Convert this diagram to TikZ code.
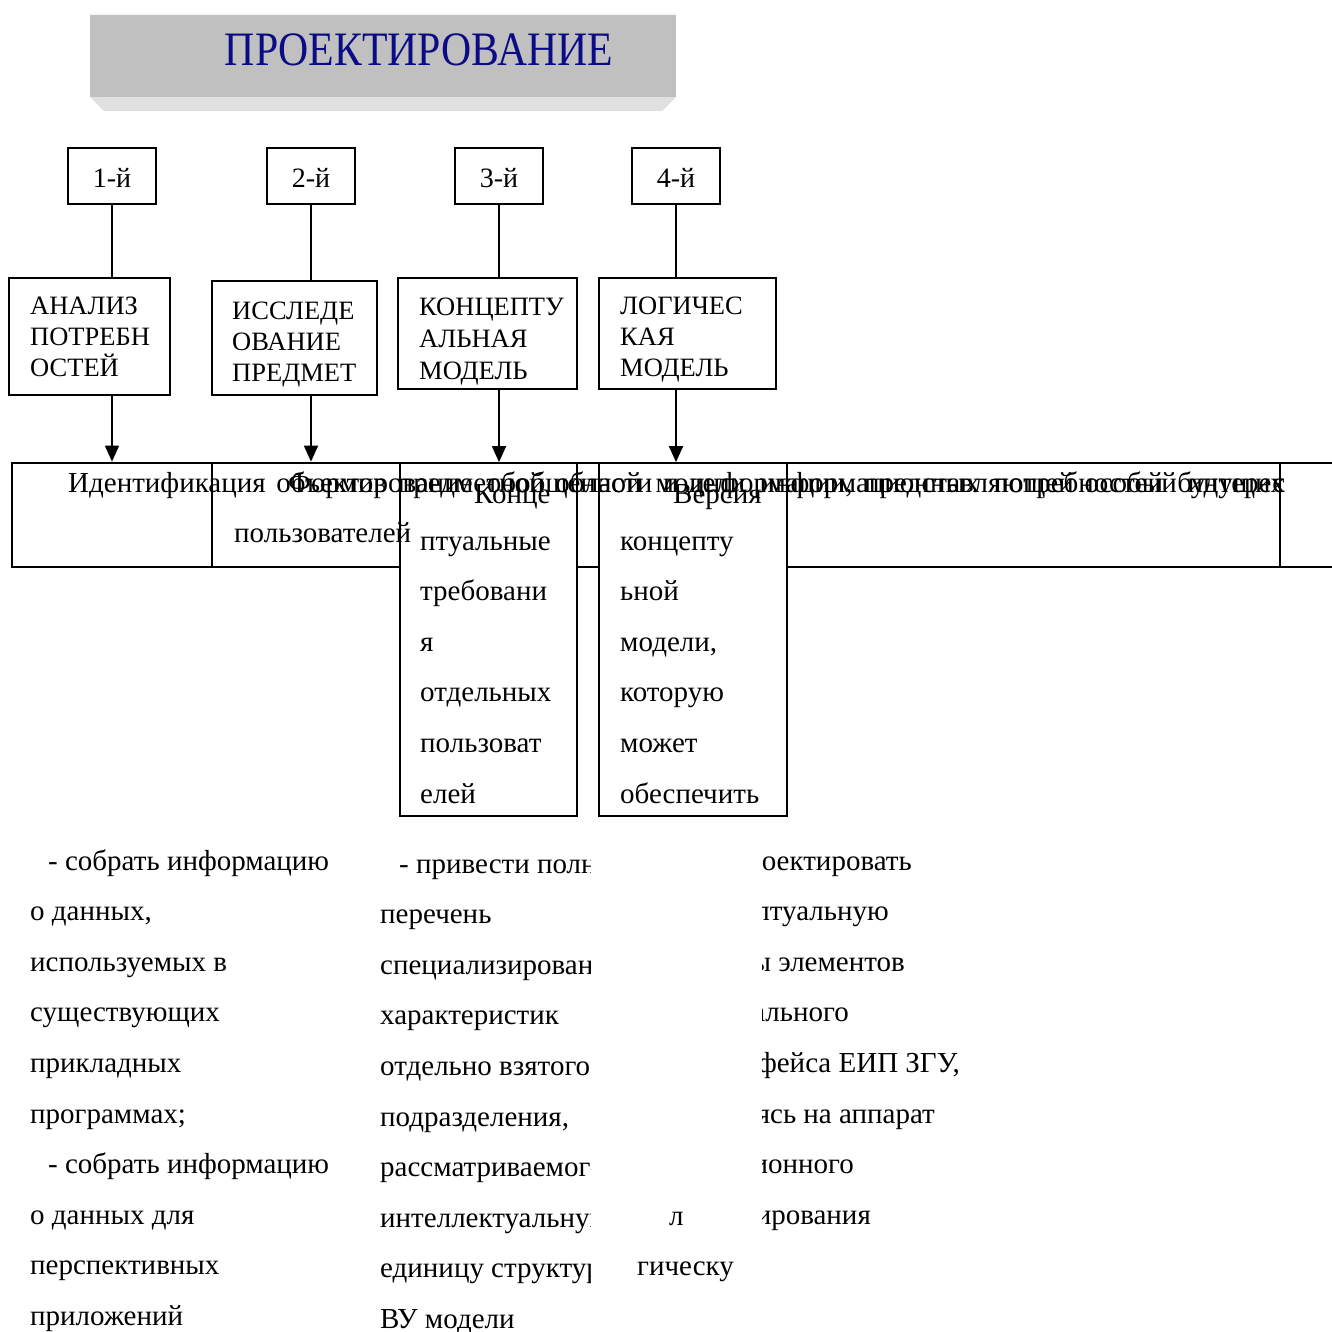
\documentclass[tikz,border=0pt]{standalone}
\usepackage{fontspec}
\setmainfont{Liberation Serif}
\newfontfamily\headfont[FakeStretch=0.87]{Liberation Serif}
\usetikzlibrary{arrows.meta}

\definecolor{headfill}{HTML}{C0C0C0}
\definecolor{headbevel}{HTML}{E0E0E0}
\definecolor{headtext}{HTML}{0B0B85}

\tikzset{
  numbox/.style={draw, line width=1.8pt, inner sep=0pt, minimum width=88pt, minimum height=56pt},
  numtext/.style={anchor=base, inner sep=0pt, font=\fontsize{28}{30}\selectfont},
  modelbox/.style={draw, line width=1.8pt, inner sep=0pt},
  stripbox/.style={draw, line width=2.8pt, inner sep=0pt, minimum height=104pt},
  colbox/.style={draw, fill=white, line width=1.8pt, inner sep=0pt, minimum height=353pt},
  capline/.style={anchor=base west, inner sep=0pt, font=\fontsize{26.5}{30}\selectfont},
  bodyline/.style={anchor=base west, inner sep=0pt, font=\fontsize{29}{34}\selectfont},
  bodyright/.style={anchor=base east, inner sep=0pt, font=\fontsize{29}{34}\selectfont},
  link/.style={line width=1.8pt},
  arrowlink/.style={line width=1.8pt, -{Triangle[length=16pt,width=14pt]}},
}

\begin{document}
\begin{tikzpicture}[x=1pt, y=-1pt]
\clip (0,0) rectangle (1332,1332);
\fill[white] (0,0) rectangle (1332,1332);

% heading plate with bevel
\fill[headbevel] (90,97) -- (676,97) -- (662,111) -- (104,111) -- cycle;
\node[fill=headfill, inner sep=0pt, minimum width=586pt, minimum height=84pt] (head) at (383,55) {};
\fill[white!85!headfill] (90,13) rectangle (676,15.5);
\node[anchor=base, inner sep=0pt, text=headtext, font=\headfont\fontsize{48}{50}\selectfont] (headtitle) at (419,66) {ПРОЕКТИРОВАНИЕ};

% stage numbers
\node[numbox] (n1) at (112,176) {};
\node[numbox] (n2) at (311,176) {};
\node[numbox] (n3) at (499,176) {};
\node[numbox] (n4) at (676,176) {};
\node[numtext] (n1t) at (112,188) {1-й};
\node[numtext] (n2t) at (311,188) {2-й};
\node[numtext] (n3t) at (499,188) {3-й};
\node[numtext] (n4t) at (676,188) {4-й};

% stage boxes
\node[modelbox, minimum width=161pt, minimum height=117pt] (m1) at (89.5,336.5) {};
\node[modelbox, minimum width=165pt, minimum height=114pt] (m2) at (294.5,338) {};
\node[modelbox, minimum width=179pt, minimum height=111pt] (m3) at (487.5,333.5) {};
\node[modelbox, minimum width=177pt, minimum height=111pt] (m4) at (687.5,333.5) {};

\foreach \t [count=\i] in {АНАЛИЗ, ПОТРЕБН, ОСТЕЙ}
  \node[capline] (m1t\i) at (30,{314+31*(\i-1)}) {\t};
\foreach \t [count=\i] in {ИССЛЕДЕ, ОВАНИЕ, ПРЕДМЕТ}
  \node[capline] (m2t\i) at (232,{319+31*(\i-1)}) {\t};
\foreach \t [count=\i] in {КОНЦЕПТУ, АЛЬНАЯ, МОДЕЛЬ}
  \node[capline] (m3t\i) at (419,{315+32*(\i-1)}) {\t};
\foreach \t [count=\i] in {ЛОГИЧЕС, КАЯ, МОДЕЛЬ}
  \node[capline] (m4t\i) at (620,{314+31*(\i-1)}) {\t};

% result strip
\node[stripbox, minimum width=200pt] (s1) at (112,515) {};
\node[stripbox, minimum width=188pt] (s2) at (306,515) {};
\node[stripbox, minimum width=22pt] (sg) at (588,515) {};
\node[stripbox, minimum width=493pt] (s5) at (1033.5,515) {};
\node[stripbox, minimum width=120pt] (s6) at (1340,515) {};
\node[colbox, minimum width=177pt] (c3) at (488.5,639.5) {};
\node[colbox, minimum width=188pt] (c4) at (693,639.5) {};

% connectors
\draw[link] (n1.south) -- (n1.south |- m1.north);
\draw[link] (n2.south) -- (n2.south |- m2.north);
\draw[link] (n3.south) -- (n3.south |- m3.north);
\draw[link] (n4.south) -- (n4.south |- m4.north);
\draw[arrowlink] (n1.south |- m1.south) -- (n1.south |- s1.north);
\draw[arrowlink] (n2.south |- m2.south) -- (n2.south |- s2.north);
\draw[arrowlink] (n3.south |- m3.south) -- (n3.south |- c3.north);
\draw[arrowlink] (n4.south |- m4.south) -- (n4.south |- c4.north);

% strip texts
\node[bodyline] (sa) at (68,492)
  {\makebox[1217pt][s]{Идентификация объектов предметной области и информации, представляющей особый интерес}};
\node[bodyline] (sb) at (288,492)
  {\makebox[997pt][s]{Формирование обобщенной модели информационных потребностей будущих}};
\node[bodyline] (sb2) at (234,542) {пользователей};

\node[bodyline] (c3h) at (474,503) {Конце};
\foreach \t [count=\i] in {птуальные, требовани, я, отдельных, пользоват, елей}
  \node[bodyline] (c3t\i) at (420,{550+50.6*(\i-1)}) {\t};
\node[bodyline] (c4h) at (673,503) {Версия};
\foreach \t [count=\i] in {концепту, ьной, {модели,}, которую, может, обеспечить}
  \node[bodyline] (c4t\i) at (620,{550+50.6*(\i-1)}) {\t};

% task lists
\foreach \xx/\t [count=\i] in {48/{- собрать информацию}, 30/{о данных,}, 30/{используемых в},
    30/{существующих}, 30/{прикладных}, 30/{программах;}, 48/{- собрать информацию},
    30/{о данных для}, 30/{перспективных}, 30/{приложений}}
  \node[bodyline] (l1t\i) at (\xx,{870+50.6*(\i-1)}) {\t};

\begin{scope}
  \clip (370,830) rectangle (590,1332);
  \foreach \xx/\t [count=\i] in {399/{- привести полный}, 380/{перечень}, 380/{специализированных},
      380/{характеристик}, 380/{отдельно взятого}, 380/{подразделения,}, 380/{рассматриваемого},
      380/{интеллектуальную}, 380/{единицу структуры}, 380/{ВУ модели}}
    \node[bodyline] (l2t\i) at (\xx,{873+50.6*(\i-1)}) {\t};
\end{scope}

\node[bodyline] (l3t1) at (669,1225) {л};
\node[bodyline] (l3t2) at (637,1275) {гическу};

\begin{scope}
  \clip (762,830) rectangle (1000,1332);
  \foreach \xx/\t [count=\i] in {912/{спроектировать}, 889/{концептуальную}, 905/{схемы элементов},
      849/{интеллектуального}, 960/{интерфейса ЕИП ЗГУ,}, 935/{опираясь на аппарат},
      854/{информационного}, 871/{моделирования}}
    \node[bodyright] (l4t\i) at (\xx,{870+50.6*(\i-1)}) {\t};
\end{scope}
\end{tikzpicture}
\end{document}
